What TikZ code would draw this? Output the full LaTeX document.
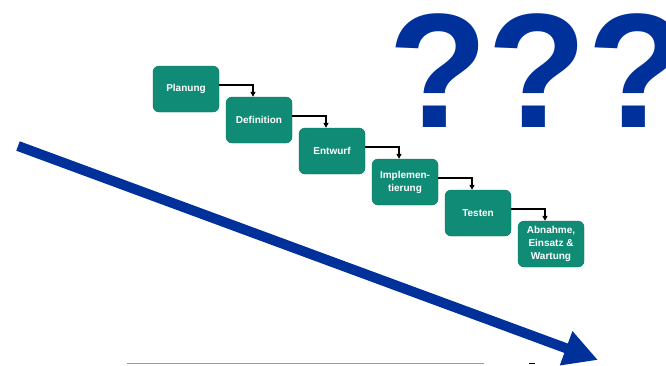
\documentclass[tikz,border=0pt]{standalone}
\usepackage{fontspec}
\setmainfont{Liberation Sans}
\usetikzlibrary{arrows.meta}

\definecolor{boxgreen}{RGB}{16,140,118}
\definecolor{boxedge}{RGB}{10,112,92}
\definecolor{darkblue}{RGB}{0,48,154}
\definecolor{rulegray}{RGB}{150,156,160}

\tikzset{
  phase/.style={draw=boxedge, fill=boxgreen, rounded corners=6pt,
    minimum width=66pt, minimum height=46pt, inner sep=1pt, align=center,
    text=white, font=\fontsize{10}{13}\selectfont\bfseries},
  flow/.style={line width=1.3pt, -{Triangle[length=5pt,width=5pt]}}
}

\begin{document}
\begin{tikzpicture}[x=1pt,y=-1pt]
    \useasboundingbox (0,0) rectangle (666,365);
    \clip (0,0) rectangle (666,365);

    % question marks
    \node[anchor=base west, inner sep=0, text=darkblue,
      font=\fontsize{163}{163}\selectfont\bfseries] (qmarks) at (388,127) {???};

    % phases
    \node[phase] (plan) at (186,89) {Planung};
    \node[phase] (def) at (259,120) {Definition};
    \node[phase] (entw) at (332,151) {Entwurf};
    \node[phase] (impl) at (405,182) {Implemen-\\tierung};
    \node[phase] (test) at (478,213) {Testen};
    \node[phase] (abn) at (551,244) {Abnahme,\\Einsatz \&\\Wartung};

    \draw[flow] ([yshift=4pt]plan.east) -| ([xshift=-6pt]def.north);
    \draw[flow] ([yshift=4pt]def.east) -| ([xshift=-6pt]entw.north);
    \draw[flow] ([yshift=4pt]entw.east) -| ([xshift=-6pt]impl.north);
    \draw[flow] ([yshift=4pt]impl.east) -| ([xshift=-6pt]test.north);
    \draw[flow] ([yshift=4pt]test.east) -| ([xshift=-6pt]abn.north);

    % big arrow
    \draw[darkblue, line width=10pt, -{Triangle[length=34pt,width=34pt]}] (18,146) -- (598,360);

    % bottom rule
    \draw[rulegray, line width=1.5pt] (127,363.5) -- (484,363.5);
    \draw[black, line width=1.5pt] (529,363.5) -- (535,363.5);
\end{tikzpicture}
\end{document}
